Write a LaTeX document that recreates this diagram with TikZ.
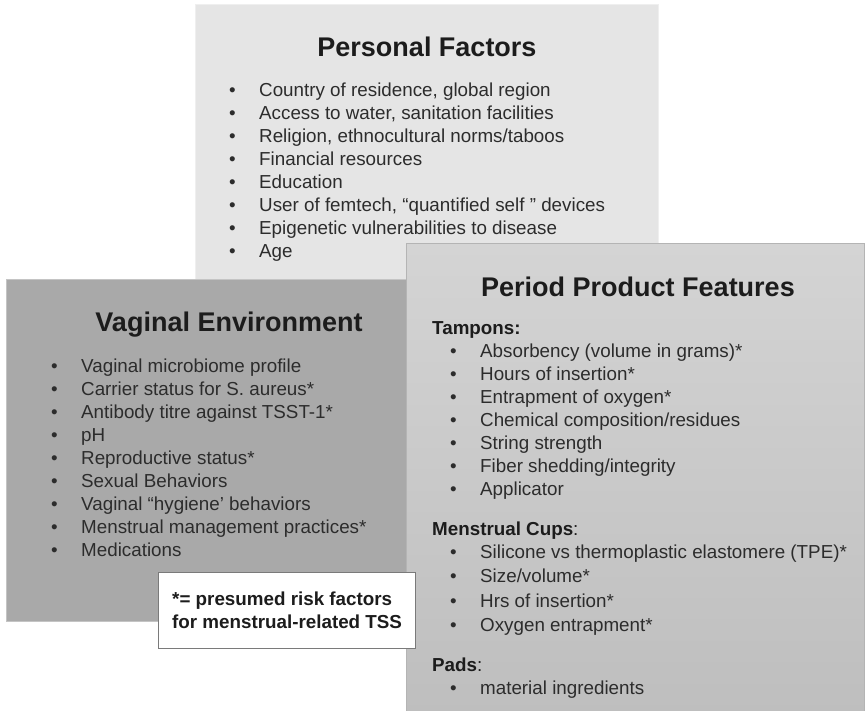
\documentclass[tikz,border=0pt]{standalone}
\usepackage{fontspec}
\setmainfont{Liberation Sans}
\definecolor{txt}{HTML}{2C2C2C}
\definecolor{titlec}{HTML}{1C1C1C}
\definecolor{persF}{HTML}{E5E5E5}
\definecolor{persD}{HTML}{EFEFEF}
\definecolor{vagF}{HTML}{A9A9A9}
\definecolor{vagD}{HTML}{C4C4C4}
\definecolor{perT}{HTML}{D4D4D4}
\definecolor{perB}{HTML}{BEBEBE}
\definecolor{perD}{HTML}{B4B4B4}
\definecolor{noteD}{HTML}{7A7A7A}
\newcommand\bul{\makebox[30pt][l]{\textbullet}}
\tikzset{
  panel/.style={anchor=north west, inner sep=0, line width=1pt},
  ttl/.style={anchor=base, inner sep=0, text=titlec, font=\fontsize{27}{30}\selectfont\bfseries},
  itm/.style={anchor=base west, inner sep=0, text=txt, font=\fontsize{18.8}{22}\selectfont},
  hd/.style={anchor=base west, inner sep=0, text=titlec, font=\fontsize{18.8}{22}\selectfont},
}
\begin{document}
\begin{tikzpicture}[x=1pt,y=-1pt]
\useasboundingbox (0,0) rectangle (865,711);
% panels
\node[panel, draw=persD, fill=persF, minimum width=463, minimum height=278] (personal) at (195,4) {};
\node[panel, draw=vagD, fill=vagF, minimum width=400, minimum height=342] (vaginal) at (6,279) {};
\node[panel, draw=perD, top color=perT, bottom color=perB, minimum width=458, minimum height=472] (period) at (406,243) {};
\node[panel, draw=noteD, fill=white, minimum width=257, minimum height=76] (note) at (158,572) {};
% Personal Factors
\node[ttl] (ptitle) at (427,57) {Personal Factors};
\foreach \t [count=\i] in {%
  {Country of residence, global region},
  {Access to water, sanitation facilities},
  {Religion, ethnocultural norms/taboos},
  {Financial resources},
  {Education},
  {User of femtech, “quantified self ” devices},
  {Epigenetic vulnerabilities to disease},
  {Age}}
  \node[itm] (pf\i) at (229,{97+(\i-1)*22.9}) {\bul\t};
% Vaginal Environment
\node[ttl] (vtitle) at (229,332) {Vaginal Environment};
\foreach \t [count=\i] in {%
  {Vaginal microbiome profile},
  {Carrier status for S. aureus*},
  {Antibody titre against TSST-1*},
  {pH},
  {Reproductive status*},
  {Sexual Behaviors},
  {Vaginal “hygiene’ behaviors},
  {Menstrual management practices*},
  {Medications}}
  \node[itm] (ve\i) at (51,{373+(\i-1)*22.9}) {\bul\t};
% Period Product Features
\node[ttl] (rtitle) at (638,297) {Period Product Features};
\node[hd] (tamp) at (432,335) {\bfseries Tampons:};
\foreach \t [count=\i] in {%
  {Absorbency (volume in grams)*},
  {Hours of insertion*},
  {Entrapment of oxygen*},
  {Chemical composition/residues},
  {String strength},
  {Fiber shedding/integrity},
  {Applicator}}
  \node[itm] (ta\i) at (450,{358+(\i-1)*22.9}) {\bul\t};
\node[hd] (cups) at (432,535) {\textbf{Menstrual Cups}:};
\foreach \t [count=\i] in {%
  {Silicone vs thermoplastic elastomere (TPE)*},
  {Size/volume*},
  {Hrs of insertion*},
  {Oxygen entrapment*}}
  \node[itm] (mc\i) at (450,{558+(\i-1)*24.5}) {\bul\t};
\node[hd] (pads) at (432,671) {\textbf{Pads}:};
\node[itm] (pd1) at (450,694) {\bul material ingredients};
% note
\node[itm, font=\fontsize{18.8}{22}\selectfont\bfseries, text=titlec] (n1) at (172,605) {*= presumed risk factors};
\node[itm, font=\fontsize{18.8}{22}\selectfont\bfseries, text=titlec] (n2) at (172,628) {for menstrual-related TSS};
\end{tikzpicture}
\end{document}
